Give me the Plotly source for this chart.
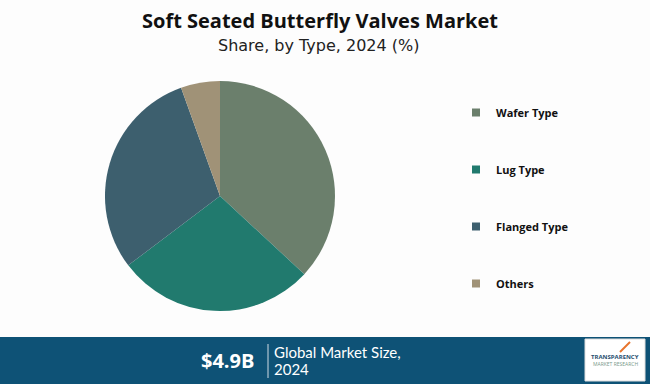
import plotly.graph_objects as go

categories = ["Wafer Type", "Lug Type", "Flanged Type", "Others"]
shares = [36.9, 27.8, 29.8, 5.5]
colors = ["#6b7f6c", "#217a6e", "#3d5f6e", "#a09277"]
market_size = "$4.9B"
market_label = ["Global Market Size,", "2024"]

W, H = 650, 384
fig = go.Figure()
fig.add_trace(go.Pie(
    labels=categories, values=shares, sort=False, direction="clockwise",
    rotation=0, marker=dict(colors=colors, line=dict(width=0)),
    textinfo="none", hoverinfo="label+percent", showlegend=False,
    domain=dict(x=[105/W, 335/W], y=[1-311/H, 1-81/H]),
))
for c, col in zip(categories, colors):
    fig.add_trace(go.Scatter(
        x=[None], y=[None], mode="markers", name="<b>" + c + "</b>", legendgroup=c,
        marker=dict(symbol="square", size=8, color=col),
    ))

def ann(text, x, y, size, family, color, xanchor="center"):
    return dict(text=text, x=x/W, y=1-y/H, xref="paper", yref="paper",
                xanchor=xanchor, yanchor="middle", showarrow=False,
                font=dict(family=family, size=size, color=color))

fig.update_layout(
    width=W, height=H, margin=dict(l=0, r=0, t=0, b=0),
    paper_bgcolor="#fdfdfd", plot_bgcolor="#fdfdfd",
    xaxis=dict(visible=False), yaxis=dict(visible=False),
    legend=dict(x=456/W, y=1-98/H, xanchor="left", yanchor="top",
                font=dict(family="Open Sans", size=11, color="#111"),
                tracegroupgap=38, itemwidth=30, bgcolor="rgba(0,0,0,0)"),
    annotations=[
        ann("<b>Soft Seated Butterfly Valves Market</b>", 320, 20, 20, "Open Sans", "#111"),
        ann("Share, by Type, 2024 (%)", 318, 46, 16, "DejaVu Sans", "#222"),
        ann("<b>" + market_size + "</b>", 256, 360, 20, "Open Sans", "white", "right"),
        ann(market_label[0], 272, 352, 15, "Lato", "white", "left"),
        ann(market_label[1], 272, 369, 15, "Lato", "white", "left"),
        ann("<b>TRANSPARENCY</b>", 615, 357, 6, "Open Sans", "#1f4e6e"),
        ann("MARKET RESEARCH", 615, 364, 5, "Open Sans", "#7a9a8a"),
    ],
    shapes=[
        dict(type="rect", xref="paper", yref="paper", x0=0, x1=1, y0=0, y1=1-337/H,
             fillcolor="#0e5276", line=dict(width=0), layer="below"),
        dict(type="line", xref="paper", yref="paper", x0=268/W, x1=268/W,
             y0=1-378/H, y1=1-344/H, line=dict(color="#cfdbe4", width=1)),
        dict(type="rect", xref="paper", yref="paper", x0=585/W, x1=645/W,
             y0=1-381/H, y1=1-339/H, fillcolor="white", line=dict(color="#dddddd", width=1)),
        dict(type="path", xref="paper", yref="paper",
             path=f"M {620/W} {1-352/H} L {630/W} {1-342/H}",
             line=dict(color="#e8742c", width=2)),
    ],
)
fig.write_html("out.html", config={"displayModeBar": False},
               post_script="document.body.style.margin='0';document.body.style.overflow='hidden';")
